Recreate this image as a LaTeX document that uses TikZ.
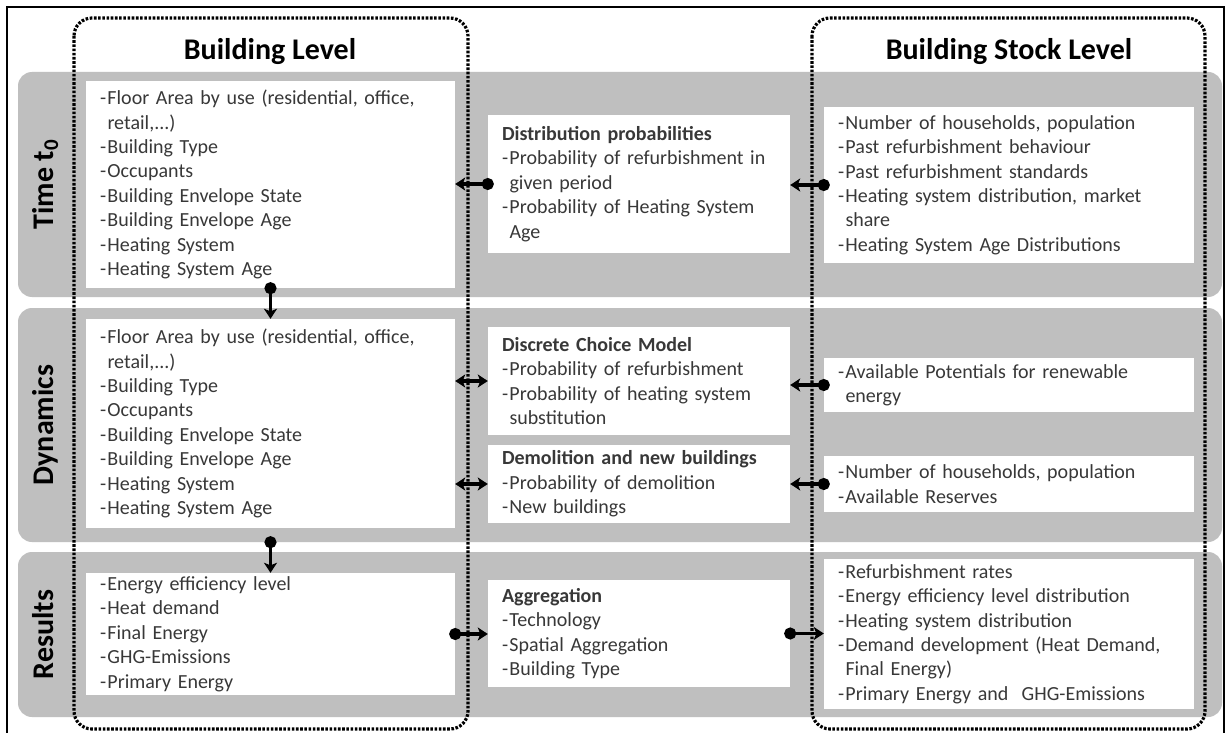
\documentclass[tikz,border=0pt]{standalone}
\usepackage{fontspec}
\setmainfont{Carlito}
\usetikzlibrary{arrows.meta}
\definecolor{band}{HTML}{BFBFBF}
\definecolor{txt}{HTML}{383838}
\newcommand\itm{\makebox[7.5pt][l]{-}}
\newcommand\cnt{\hspace*{7.5pt}}
\begin{document}
\begin{tikzpicture}[x=1pt,y=-1pt,
  bandbox/.style={fill=band, draw=none, rounded corners=14pt},
  wbox/.style={fill=white, draw=none, inner xsep=14pt, inner ysep=0pt, align=left, text=txt,
    font=\fontsize{20}{24.4}\selectfont, anchor=center},
  lcol/.style={wbox, minimum width=369pt, text width=341pt},
  mcol/.style={wbox, minimum width=302pt, text width=274pt},
  rcol/.style={wbox, minimum width=370pt, text width=342pt},
  lvlbox/.style={draw=black, dash pattern=on 2.6pt off 1.6pt, line width=3.2pt, rounded corners=18pt},
  title/.style={anchor=base, font=\fontsize{30}{36}\selectfont\bfseries},
  rowlab/.style={rotate=90, anchor=base, font=\fontsize{30}{36}\selectfont\bfseries},
  conn/.style={line width=3.4pt, draw=black},
  dotarr/.style={conn, {Circle[length=12pt]}-{Stealth[length=10pt,width=13pt,inset=2.5pt]}, shorten <=-6pt},
  dblarr/.style={conn, {Stealth[length=10pt,width=13pt,inset=2.5pt]}-{Stealth[length=10pt,width=13pt,inset=2.5pt]}}
]
\useasboundingbox (0,0) rectangle (1227,733);
\clip (0,0) rectangle (1227,733);
\fill[white] (0,0) rectangle (1227,733);
% frame
\draw[line width=2.6pt] (7,745) -- (7,7) -- (1224,7) -- (1224,745);
% bands
\fill[bandbox] (18,72) rectangle (1222,297);
\fill[bandbox] (18,308) rectangle (1222,542);
\fill[bandbox] (18,552) rectangle (1222,717);
% row labels
\node[rowlab] (lt) at (53,184.5) {Time t\textsubscript{0}};
\node[rowlab] (ld) at (53,425) {Dynamics};
\node[rowlab] (lr) at (53,634.5) {Results};
% left boxes
\node[lcol, minimum height=207pt] (L1) at (270.5,184.5) {%
\itm Floor Area by use (residential, office,\\
\cnt retail,...)\\
\itm Building Type\\
\itm Occupants\\
\itm Building Envelope State\\
\itm Building Envelope Age\\
\itm Heating System\\
\itm Heating System Age};
\node[lcol, minimum height=209pt] (L2) at (270.5,423.5) {%
\itm Floor Area by use (residential, office,\\
\cnt retail,...)\\
\itm Building Type\\
\itm Occupants\\
\itm Building Envelope State\\
\itm Building Envelope Age\\
\itm Heating System\\
\itm Heating System Age};
\node[lcol, minimum height=122pt] (L3) at (270.5,634) {%
\itm Energy efficiency level\\
\itm Heat demand\\
\itm Final Energy\\
\itm GHG-Emissions\\
\itm Primary Energy};
% middle boxes
\node[mcol, minimum height=138pt] (M1) at (639,184) {%
\textbf{Distribution probabilities}\\
\itm Probability of refurbishment in\\
\cnt given period\\
\itm Probability of Heating System\\
\cnt Age};
\node[mcol, minimum height=108pt] (M2a) at (639,381) {%
\textbf{Discrete Choice Model}\\
\itm Probability of refurbishment\\
\itm Probability of heating system\\
\cnt substitution};
\node[mcol, minimum height=78pt] (M2b) at (639,484) {%
\textbf{Demolition and new buildings}\\
\itm Probability of demolition\\
\itm New buildings};
\node[mcol, minimum height=107pt] (M3) at (639,633.5) {%
\textbf{Aggregation}\\
\itm Technology\\
\itm Spatial Aggregation\\
\itm Building Type};
% right boxes
\node[rcol, minimum height=156pt] (R1) at (1009,185) {%
\itm Number of households, population\\
\itm Past refurbishment behaviour\\
\itm Past refurbishment standards\\
\itm Heating system distribution, market\\
\cnt share\\
\itm Heating System Age Distributions};
\node[rcol, minimum height=54pt] (R2a) at (1009,385) {%
\itm Available Potentials for renewable\\
\cnt energy};
\node[rcol, minimum height=56pt] (R2b) at (1009,484) {%
\itm Number of households, population\\
\itm Available Reserves};
\node[rcol, minimum height=150pt] (R3) at (1009,634) {%
\itm Refurbishment rates\\
\itm Energy efficiency level distribution\\
\itm Heating system distribution\\
\itm Demand development (Heat Demand,\\
\cnt Final Energy)\\
\itm Primary Energy and\ \ GHG-Emissions};
% level boxes
\draw[lvlbox] (74,18) rectangle (468,729);
\draw[lvlbox] (812,18) rectangle (1205,729);
\node[title] (tb) at (270,60) {Building Level};
\node[title] (ts) at (1009,60) {Building Stock Level};
% connectors
\draw[dotarr] (M1.west) -- (M1.west -| L1.east);
\draw[dotarr] (R1.west) -- (R1.west -| M1.east);
\draw[dotarr] (L1.south) -- (L2.north);
\draw[dblarr] (L2.east |- M2a.west) -- (M2a.west);
\draw[dotarr] (R2a.west) -- (R2a.west -| M2a.east);
\draw[dblarr] (L2.east |- M2b.west) -- (M2b.west);
\draw[dotarr] (R2b.west) -- (R2b.west -| M2b.east);
\draw[dotarr] ([yshift=-14pt]L2.south) -- (L3.north);
\draw[dotarr] (L3.east) -- (L3.east -| M3.west);
\draw[dotarr] (M3.east) -- (M3.east -| R3.west);
\end{tikzpicture}
\end{document}
